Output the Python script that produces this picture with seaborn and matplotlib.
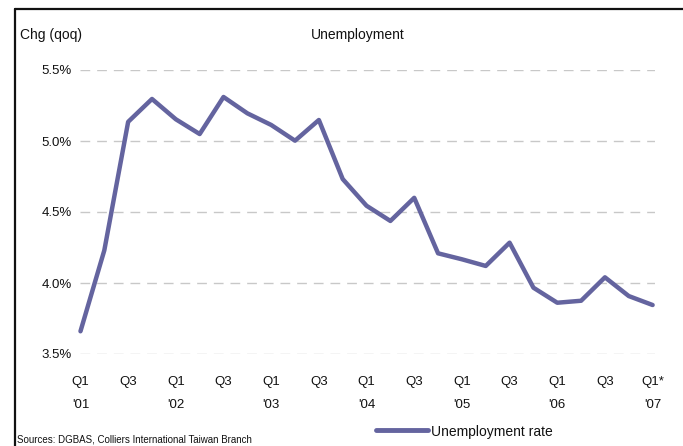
import matplotlib
matplotlib.use("Agg")
import matplotlib.pyplot as plt
import seaborn as sns
import pandas as pd
from matplotlib.lines import Line2D

quarters = ["Q1\n'01", "Q2 '01", "Q3\n", "Q4 '01",
            "Q1\n'02", "Q2 '02", "Q3\n", "Q4 '02",
            "Q1\n'03", "Q2 '03", "Q3\n", "Q4 '03",
            "Q1\n'04", "Q2 '04", "Q3\n", "Q4 '04",
            "Q1\n'05", "Q2 '05", "Q3\n", "Q4 '05",
            "Q1\n'06", "Q2 '06", "Q3\n", "Q4 '06",
            "Q1*\n'07"]
unemployment = [3.66, 4.23, 5.135, 5.296, 5.153, 5.049, 5.31, 5.195,
                5.113, 5.002, 5.148, 4.732, 4.544, 4.437, 4.60, 4.209,
                4.167, 4.12, 4.284, 3.967, 3.861, 3.875, 4.04, 3.908, 3.845]
ytick_values = [3.5, 4.0, 4.5, 5.0, 5.5]
ytick_labels = ["3.5%", "4.0%", "4.5%", "5.0%", "5.5%"]

sns.set_theme(style="white")
plt.rcParams['font.family'] = ['Liberation Sans', 'DejaVu Sans']

df = pd.DataFrame({"idx": range(len(unemployment)), "rate": unemployment})
color = "#64649F"

fig = plt.figure(figsize=(6.83, 4.46), dpi=100)
ax = fig.add_axes([80/683, 1-354/446, (655-80)/683, (354-70)/446])
sns.lineplot(data=df, x="idx", y="rate", ax=ax, color=color, linewidth=3.2,
             clip_on=False, zorder=3)

ax.set_xlim(-0.02, 24.1)
ax.set_ylim(3.5, 5.5)
ax.set_yticks(ytick_values)
ax.set_yticklabels(ytick_labels, fontsize=9.5, color="#111111")
for y in ytick_values:
    ax.axhline(y, color="#c8c8c8", linewidth=1.0, linestyle=(0, (7, 5)), zorder=1)

tick_pos = list(range(0, 25, 2))
tick_lab = [quarters[i] if quarters[i].startswith("Q1") else "Q3\n" for i in tick_pos]
ax.set_xticks(tick_pos)
ax.set_xticklabels(tick_lab, fontsize=9.5, color="#111111", linespacing=2.25)
ax.tick_params(axis="y", length=0, pad=6)
ax.tick_params(axis="x", length=0, pad=16)
for s in ax.spines.values():
    s.set_visible(False)
ax.set_xlabel("")
ax.set_ylabel("")
ax.grid(False)

fig.text(358/683, 1-35/446, "Unemployment", ha="center", va="center", fontsize=10, color="#111111")
fig.text(20/683, 1-35/446, "Chg (qoq)", ha="left", va="center", fontsize=10, color="#111111")
fig.text(17/683, 1-440/446, "Sources: DGBAS, Colliers International Taiwan Branch",
         ha="left", va="center", fontsize=7, color="#111111")

fig.add_artist(Line2D([376/683, 428/683], [1-430/446, 1-430/446], color=color,
                      linewidth=3.5, transform=fig.transFigure))
fig.text(431/683, 1-432/446, "Unemployment rate", ha="left", va="center", fontsize=10, color="#111111")

# frame lines (top and left)
fig.add_artist(Line2D([15/683, 1.0], [1-9/446, 1-9/446], color="#111111", linewidth=1.6,
                      transform=fig.transFigure))
fig.add_artist(Line2D([15/683, 15/683], [0, 1-9/446], color="#111111", linewidth=1.6,
                      transform=fig.transFigure))

fig.savefig("out.png", dpi=100)
